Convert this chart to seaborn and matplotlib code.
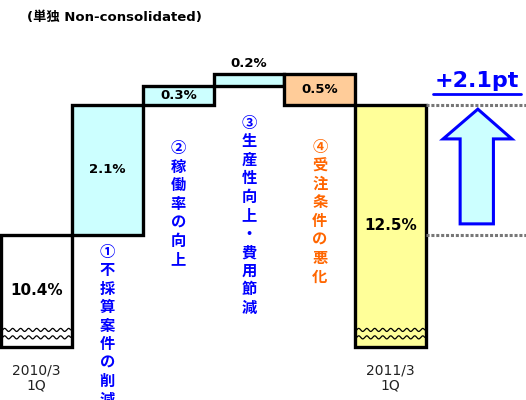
import numpy as np
import pandas as pd
import matplotlib
matplotlib.use('Agg')
import matplotlib.pyplot as plt
import seaborn as sns
from matplotlib.patches import Polygon

# 데이터 (영업이익률 증감 요인, 단위: %)
periods = ['2010/3\n1Q', '', '', '', '', '2011/3\n1Q']
changes = [10.4, 2.1, 0.3, 0.2, -0.5, 12.5]
bar_labels = ['10.4%', '2.1%', '0.3%', '0.2%', '0.5%', '12.5%']
factors = ['①不採算案件の削減', '②稼働率の向上', '③生産性向上・費用節減', '④受注条件の悪化']
factor_colors = ['#0000FF', '#0000FF', '#0000FF', '#FF6600']
factor_start = [10.13, 11.80, 12.21, 11.82]   # 세로 글자 시작 높이
bar_colors = ['#FFFFFF', '#CCFFFF', '#CCFFFF', '#CCFFFF', '#FFCC99', '#FFFF99']
floor = 8.6   # 축 생략 기준

# 워터폴 계산
bottoms, heights = [], []
level = changes[0]
for i, d in enumerate(changes):
    if i == 0 or i == len(changes) - 1:
        bottoms.append(floor)
        heights.append(d - floor)
    else:
        bottoms.append(min(level, level + d))
        heights.append(abs(d))
        level += d
df = pd.DataFrame({'pos': range(len(changes)), 'height': heights, 'bottom': bottoms})
start, end = changes[0], changes[-1]

sns.set_style('white')
plt.rcParams['font.family'] = ['DejaVu Sans', 'Noto Sans CJK JP']
plt.rcParams['text.color'] = 'black'
cjk = ['Noto Sans CJK JP', 'DejaVu Sans']

fig = plt.figure(figsize=(5.26, 4.0), dpi=100)
ax = fig.add_axes([0, 0, 1, 1])

sns.barplot(data=df, x='pos', y='height', bottom=df['bottom'].values, native_scale=True,
            width=1, errorbar=None, color='white', edgecolor='black', linewidth=2.4, ax=ax)
for patch, c in zip(ax.patches, bar_colors):
    patch.set_facecolor(c)

# 물결선 (축 생략 표시)
for i in [0, len(changes) - 1]:
    xs = np.linspace(i - 0.48, i + 0.48, 200)
    for y0 in [8.87, 8.75]:
        ax.plot(xs, y0 + 0.025 * np.sin(2 * np.pi * (xs - xs[0]) / 0.113), color='black', lw=0.9, zorder=5)

# 값 라벨
for i, lab in enumerate(bar_labels):
    b, h = bottoms[i], heights[i]
    y = b + h / 2
    fs = 11
    if i == 3:
        y = b + h + 0.16
    if i in (1, 2, 3, 4):
        fs = 9.5
    ax.text(i, y, lab, ha='center', va='center', fontsize=fs, fontweight='bold', color='black', zorder=6)

# 요인 설명 (세로 글자)
step = 18.5 / 62
for k, (txt, col, y0) in enumerate(zip(factors, factor_colors, factor_start)):
    for j, ch in enumerate(txt):
        ax.text(k + 1, y0 - j * step, ch, ha='center', va='center', fontsize=11,
                fontweight='bold', color=col, family=cjk)

# 기간 라벨
for i, p in enumerate(periods):
    if p:
        ax.text(i, 8.09, p, ha='center', va='center', fontsize=10, linespacing=1.1, color='#222222')

# 오른쪽 점선 및 화살표
xr = len(changes) - 0.5
for lv in [start, end]:
    ax.plot([xr, 7.0], [lv, lv], color='#777777', lw=2.2, ls=(0, (1, 0.6)), zorder=1)

cx = 6.23
arrow = Polygon([(cx, end - 0.07), (cx + 0.48, end - 0.55), (cx + 0.22, end - 0.55),
                 (cx + 0.22, start + 0.18), (cx - 0.25, start + 0.18), (cx - 0.25, end - 0.55),
                 (cx - 0.49, end - 0.55)], closed=True, facecolor='#CCFFFF', edgecolor='#0000FF', lw=2.2)
ax.add_patch(arrow)
ax.text(cx - 0.02, 12.89, f'+{end - start:.1f}pt', ha='center', va='center', fontsize=16,
        fontweight='bold', color='#0000FF')
ax.plot([5.59, 6.84], [12.68, 12.68], color='#0000FF', lw=2)

# 제목
fig.text(0.051, 0.957, '(単独 Non-consolidated)', ha='left', va='center', fontsize=9.5,
         fontweight='bold', color='black')

ax.set_xlim(-0.517, 6.91)
ax.set_ylim(7.74, 14.19)
ax.set_axis_off()

plt.savefig('out.png', dpi=100)
